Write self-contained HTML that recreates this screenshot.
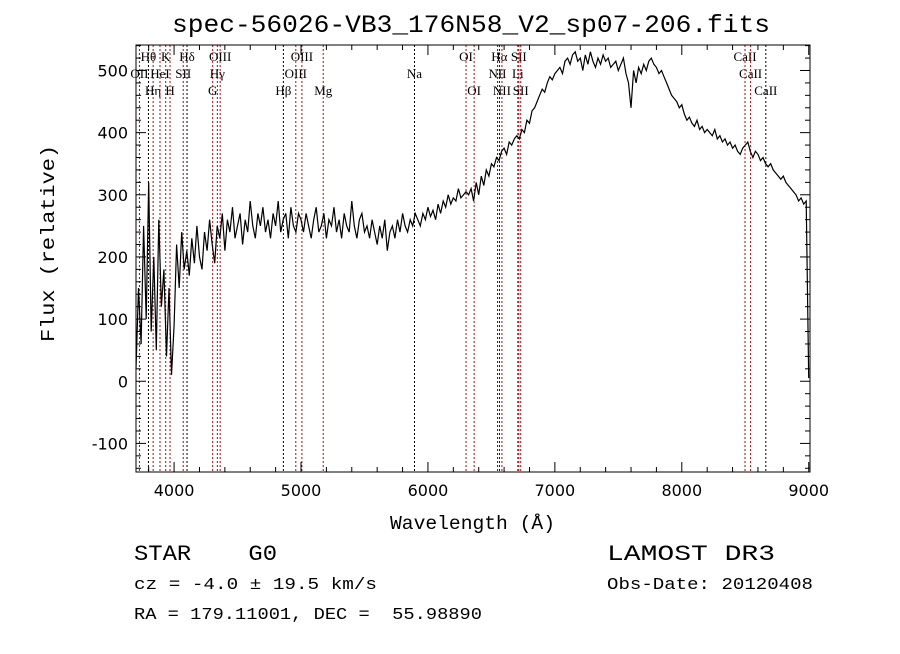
<!DOCTYPE html>
<html><head><meta charset="utf-8"><style>
body{margin:0;background:#fff}
svg text{font-family:"Liberation Mono","DejaVu Sans Mono",monospace;fill:#000;white-space:pre}
.ln{font-family:"Liberation Serif",serif;font-size:13px}
.tk{font-family:"DejaVu Sans","Liberation Sans",sans-serif}
</style></head><body>
<svg id="chart" width="900" height="649" viewBox="0 0 900 649" xmlns="http://www.w3.org/2000/svg" xml:space="preserve">
<rect width="900" height="649" fill="#fff"/>
<text x="172" y="32" font-size="25" textLength="598" lengthAdjust="spacingAndGlyphs">spec-56026-VB3_176N58_V2_sp07-206.fits</text>
<g id="lines"></g>
<g id="axes"></g>
<path id="spec" fill="none" stroke="#000" stroke-width="1.2"/>
<text x="390" y="529" font-size="19" textLength="165" lengthAdjust="spacingAndGlyphs">Wavelength (Å)</text>
<text transform="translate(54,342) rotate(-90)" font-size="19" textLength="197" lengthAdjust="spacingAndGlyphs">Flux (relative)</text>
<text x="134" y="560" font-size="22" textLength="143" lengthAdjust="spacingAndGlyphs">STAR    G0</text>
<text x="134" y="589" font-size="17" textLength="243" lengthAdjust="spacingAndGlyphs">cz = -4.0 ± 19.5 km/s</text>
<text x="134" y="619" font-size="17" textLength="348" lengthAdjust="spacingAndGlyphs">RA = 179.11001, DEC =  55.98890</text>
<text x="607" y="560" font-size="22" textLength="168" lengthAdjust="spacingAndGlyphs">LAMOST DR3</text>
<text x="607" y="589" font-size="17" textLength="206" lengthAdjust="spacingAndGlyphs">Obs-Date: 20120408</text>
</svg>
<script>
const xTicks=[4000,5000,6000,7000,8000,9000];
const yTicks=[-100,0,100,200,300,400,500];
const lineWaves=[3727,3798,3835,3889,3934,3968,4072,4102,4304,4341,4363,4861,4959,5007,5175,5894,6300,6364,6548,6563,6583,6708,6716,6731,8498,8542,8662];
const lineNames=["OII","Hθ","Hη","HeI","K","H","SII","Hδ","G","Hγ","OIII","Hβ","OIII","OIII","Mg","Na","OI","OI","NII","Hα","NII","Li","SII","SII","CaII","CaII","CaII"];
const lineRed=[1,0,1,1,1,1,1,0,1,1,1,0,1,1,1,0,1,1,1,0,1,1,1,1,1,1,0];
const lineRow=[1,0,2,1,0,2,1,0,2,1,0,2,1,0,2,1,0,2,1,0,2,1,0,2,0,1,2];
const fluxStart=3700, fluxStep=20;
const flux=[20,150,60,250,100,320,80,200,50,260,120,180,40,150,10,90,
220,150,240,180,210,170,230,190,250,200,180,240,210,260,220,
190,250,230,270,210,260,240,280,230,250,270,220,260,240,290,250,230,270,250,280,240,260,230,270,250,290,240,260,270,230,280,250,240,270,260,
240,270,250,230,260,280,240,250,270,230,260,250,280,240,260,230,270,250,240,290,250,230,260,270,240,250,230,260,240,220,250,230,260,210,240,250,230,260,240,270,250,240,260,250,270,
260,250,270,260,280,265,275,260,285,270,290,280,300,285,295,290,310,295,300,305,
300,310,290,320,300,330,315,340,330,350,345,360,355,370,375,365,385,380,390,395,
390,405,400,420,415,435,440,450,460,470,465,480,490,485,495,
500,505,495,515,520,510,525,530,515,520,500,525,510,530,515,505,520,510,525,515,520,505,510,515,500,510,520,495,480,440,
500,480,505,495,510,500,515,520,510,505,495,500,490,480,470,
460,455,450,440,445,430,420,425,415,410,420,405,410,400,405,
400,395,405,390,395,385,390,380,385,375,380,370,365,375,380,385,370,360,370,365,
355,360,350,345,350,340,335,330,325,330,320,315,310,305,300,
290,295,285,290,5];
const X0=136,X1=810,Y0=45,Y1=472,WMIN=3700,WMAX=9010,FMIN=-146,FMAX=541;
const sx=w=>X0+(w-WMIN)/(WMAX-WMIN)*(X1-X0);
const sy=f=>Y1-(f-FMIN)/(FMAX-FMIN)*(Y1-Y0);
const NS="http://www.w3.org/2000/svg";
function mk(tag,attrs,parent){const e=document.createElementNS(NS,tag);for(const k in attrs)e.setAttribute(k,attrs[k]);parent.appendChild(e);return e;}
const ax=document.getElementById('axes'),lg=document.getElementById('lines');
const frame=mk('rect',{x:X0,y:Y0,width:X1-X0,height:Y1-Y0,fill:'none',stroke:'#000','stroke-width':1},ax);


for(let w=3800;w<=9000;w+=200){const x=sx(w);const big=w%1000===0;const L=big?10:5;
 mk('line',{x1:x,x2:x,y1:Y1,y2:Y1-L,stroke:'#000'},ax);mk('line',{x1:x,x2:x,y1:Y0,y2:Y0+L,stroke:'#000'},ax);}
xTicks.forEach(v=>{const t=mk('text',{x:sx(v),y:Y1+24,'font-size':16,'text-anchor':'middle',class:'tk'},ax);t.textContent=v;
 
 });
for(let f=-140;f<=540;f+=20){const y=sy(f);const big=f%100===0;const L=big?10:5;
 mk('line',{x1:X0,x2:X0+L,y1:y,y2:y,stroke:'#000'},ax);mk('line',{x1:X1,x2:X1-L,y1:y,y2:y,stroke:'#000'},ax);}
yTicks.forEach(v=>{const t=mk('text',{x:X0-8,y:sy(v)+6,'font-size':16,'text-anchor':'end',class:'tk'},ax);t.textContent=v;
 
 });
lineWaves.forEach((w,i)=>{const x=sx(w);
 const l=mk('line',{x1:x,x2:x,y1:Y0,y2:Y1,stroke:lineRed[i]?'#c00000':'#000','stroke-width':1,'stroke-dasharray':'2,2'},lg);
 
 
 const t=mk('text',{x:x,y:61+lineRow[i]*17,'text-anchor':'middle',class:'ln'},lg);t.textContent=lineNames[i];
 
 });
let d='';flux.forEach((f,i)=>{const w=fluxStart+i*fluxStep;d+=(i?'L':'M')+sx(w).toFixed(1)+','+sy(f).toFixed(1);});
document.getElementById('spec').setAttribute('d',d);
</script>
</body></html>
